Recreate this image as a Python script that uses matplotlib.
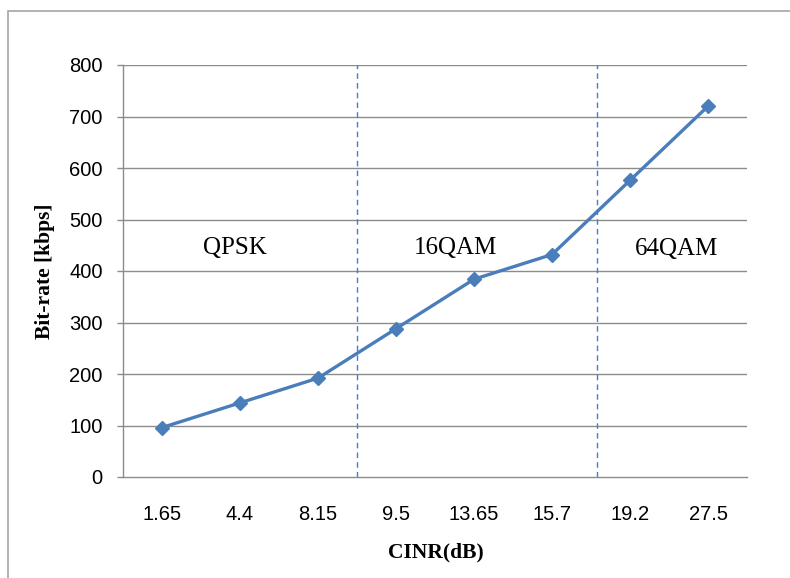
import matplotlib
matplotlib.use("Agg")
import matplotlib.pyplot as plt
from matplotlib.patches import Rectangle
import numpy as np

categories = ["1.65", "4.4", "8.15", "9.5", "13.65", "15.7", "19.2", "27.5"]
bitrate = [96, 144, 192, 288, 384, 432, 576, 720]
yticks = [0, 100, 200, 300, 400, 500, 600, 700, 800]
regions = ["QPSK", "16QAM", "64QAM"]
region_x = [0.94, 3.76, 6.60]
region_y = [445, 445, 443]
boundaries = [2.5, 5.58]

W, H = 790, 578
fig = plt.figure(figsize=(W / 100, H / 100), dpi=100)
fig.patch.set_facecolor("white")

# outer border
fig.patches.append(Rectangle((8 / W, -0.1), 1.2, 1.1 - 11 / H,
                             transform=fig.transFigure, fill=False,
                             edgecolor="#a6a6a6", linewidth=1.2))

ax = fig.add_axes([123 / W, (H - 477) / H, 624 / W, 412 / H])
x = np.arange(len(categories))

for yt in yticks[1:]:
    ax.axhline(yt, color="#8c8c8c", linewidth=1.0, zorder=1)

for b in boundaries:
    ax.axvline(b, color="#3f7fd4", linewidth=1.0, linestyle=(0, (4, 3)), zorder=2)

ax.plot(x, bitrate, color="#4a7ebb", linewidth=2.4, marker="D", markersize=7,
        markerfacecolor="#4a7ebb", markeredgecolor="#4a7ebb", zorder=3)

for name, rx, ry in zip(regions, region_x, region_y):
    ax.text(rx, ry, name, ha="center", va="center", fontsize=18,
            family="Liberation Serif", color="black")

ax.set_xlim(-0.5, len(categories) - 0.5)
ax.set_ylim(0, 800)
ax.set_xticks(x)
ax.set_xticklabels(categories)
ax.set_yticks(yticks)

for s in ["top", "right"]:
    ax.spines[s].set_visible(False)
for s in ["left", "bottom"]:
    ax.spines[s].set_color("#8c8c8c")
    ax.spines[s].set_linewidth(1.0)

ax.tick_params(axis="y", length=4.5, width=1.0, color="#8c8c8c", pad=10,
               labelsize=14.5)
ax.tick_params(axis="x", length=0, pad=20, labelsize=14.5)
for lab in ax.get_xticklabels() + ax.get_yticklabels():
    lab.set_family("Liberation Sans")

ax.set_xlabel("CINR(dB)", fontsize=15.5, fontweight="bold", family="Liberation Serif")
ax.xaxis.set_label_coords((436 - 123) / 624, (477 - 552) / 412)
ax.xaxis.label.set_va("center")
ax.set_ylabel("Bit-rate [kbps]", fontsize=15.5, fontweight="bold", family="Liberation Serif")
ax.yaxis.set_label_coords((45 - 123) / 624, 0.5)
ax.yaxis.label.set_va("center")

fig.savefig("out.png", dpi=100)
